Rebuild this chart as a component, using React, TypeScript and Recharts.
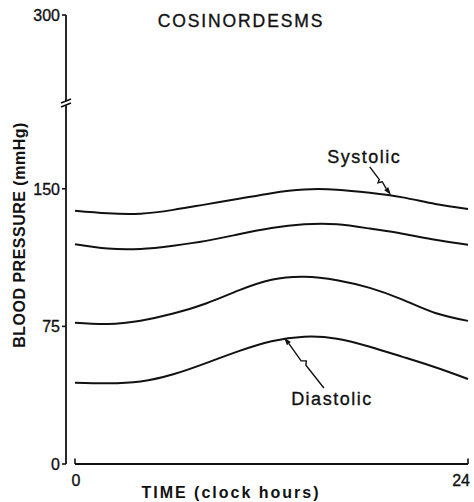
import React from "react";
import { LineChart, Line, XAxis, YAxis, ReferenceLine } from "recharts";

// clock hours sampled along the curves
const hours = [0, 2, 4, 6, 8, 10, 12, 14, 16, 18, 20, 22, 24];

// cosinor desms: upper / lower bounds for systolic and diastolic pressure (mmHg)
const systolicUpper = [138.0, 136.6, 136.4, 138.5, 141.5, 144.5, 147.6, 149.6, 149.5, 147.8, 145.3, 141.7, 139.0];
const systolicLower = [119.8, 117.4, 117.2, 119.0, 121.6, 125.2, 128.6, 130.6, 130.6, 128.3, 125.5, 122.2, 119.5];
const diastolicUpper = [77.0, 76.3, 78.1, 82.0, 87.5, 94.6, 100.4, 102.1, 100.2, 96.0, 89.6, 82.3, 78.0];
const diastolicLower = [44.3, 44.0, 45.0, 48.9, 55.0, 61.5, 66.9, 69.4, 68.3, 63.9, 58.4, 52.7, 46.3];

// y axis is broken: the top tick stands for 300 mmHg
const yTicks = [0, 75, 150];
const yBreak = 196.7;
const yTop = 244.7;
const yTopLabel = "300";
const xTicks = [0, 24];

const FONT = '"Liberation Sans", Arial, Helvetica, sans-serif';
const INK = "#111";
// photocopied type looks heavier than plain regular weight
const heavy = { stroke: INK, strokeWidth: 0.35 };

const data = hours.map((h, i) => ({
  hour: h,
  systolicUpper: systolicUpper[i],
  systolicLower: systolicLower[i],
  diastolicUpper: diastolicUpper[i],
  diastolicLower: diastolicLower[i],
}));

const TICK_SIZE = 4;
const TICK_MARGIN = 2;

function YTick(props: any) {
  const { x, y, payload } = props;
  const axisX = x + TICK_SIZE + TICK_MARGIN;
  const v = payload.value;
  if (v === yBreak) {
    return (
      <g>
        <rect x={axisX - 4} y={y - 2} width={8} height={4} fill="#fff" />
        <line x1={axisX - 5} y1={y + 0} x2={axisX + 5} y2={y - 4} stroke={INK} strokeWidth={1.6} />
        <line x1={axisX - 5} y1={y + 4} x2={axisX + 5} y2={y + 0} stroke={INK} strokeWidth={1.6} />
      </g>
    );
  }
  return (
    <g>
      <line x1={axisX - TICK_SIZE} y1={y} x2={axisX} y2={y} stroke={INK} strokeWidth={1.6} />
      <text x={x} y={y} dy="0.36em" textAnchor="end" fontSize={16} fill={INK} fontFamily={FONT} {...heavy}>
        {v === yTop ? yTopLabel : String(v)}
      </text>
    </g>
  );
}

function XTick(props: any) {
  const { x, y, payload } = props;
  const last = payload.value === 24;
  return (
    <text
      x={last ? x + 4 : x + 1}
      y={y}
      dy="0.71em"
      textAnchor={last ? "end" : "middle"}
      fontSize={16}
      fill={INK}
      fontFamily={FONT}
      {...heavy}
    >
      {payload.value}
    </text>
  );
}

function makeArrow(label: string, dx: number, dy: number) {
  return (p: any) => {
    const { x1, y1, x2, y2 } = p;
    const len = Math.hypot(x2 - x1, y2 - y1);
    const ux = (x2 - x1) / len;
    const uy = (y2 - y1) / len;
    const nx = -uy;
    const ny = ux;
    // small zig-zag halfway along the shaft
    const ax = x1 + ux * len * 0.45;
    const ay = y1 + uy * len * 0.45;
    const bx = x1 + ux * len * 0.5 + nx * 3;
    const by = y1 + uy * len * 0.5 + ny * 3;
    const cx = x1 + ux * len * 0.55 - nx * 1;
    const cy = y1 + uy * len * 0.55 - ny * 1;
    const hx = x2 - ux * 8;
    const hy = y2 - uy * 8;
    return (
      <g>
        <polyline
          points={`${x1},${y1} ${ax},${ay} ${bx},${by} ${cx},${cy} ${hx},${hy}`}
          fill="none"
          stroke={INK}
          strokeWidth={1.4}
        />
        <polygon
          points={`${x2},${y2} ${hx + nx * 2.5},${hy + ny * 2.5} ${hx - nx * 2.5},${hy - ny * 2.5}`}
          fill={INK}
        />
        <text
          x={x1 + dx}
          y={y1 + dy}
          textAnchor="middle"
          fontSize={18}
          letterSpacing={1.5}
          fill={INK}
          fontFamily={FONT}
          {...heavy}
        >
          {label}
        </text>
      </g>
    );
  };
}

const lineProps = {
  type: "natural" as const,
  stroke: INK,
  strokeWidth: 2,
  dot: false,
  activeDot: false,
  isAnimationActive: false,
};

export default function App() {
  return (
    <div style={{ position: "absolute", left: 0, top: 0, width: 474, height: 502, background: "#fff" }}>
      <LineChart width={474} height={502} data={data} margin={{ top: 15, right: 6, bottom: 0, left: 0 }}>
        <XAxis
          dataKey="hour"
          type="number"
          domain={[0, 24]}
          ticks={xTicks}
          padding={{ left: 9, right: 0 }}
          axisLine={false}
          tickLine={false}
          tickSize={8}
          tickMargin={3}
          height={38}
          tick={<XTick />}
        />
        <YAxis
          type="number"
          domain={[0, yTop]}
          ticks={[...yTicks, yBreak, yTop]}
          width={66}
          axisLine={{ stroke: INK, strokeWidth: 1.8 }}
          tickLine={false}
          tickSize={TICK_SIZE}
          tickMargin={TICK_MARGIN}
          tick={<YTick />}
          interval={0}
          label={{
            content: () => (
              <text
                x={25}
                y={235}
                transform="rotate(-90 25 235)"
                textAnchor="middle"
                fontSize={16}
                fontWeight="bold"
                letterSpacing={0.5}
                fill={INK}
                fontFamily={FONT}
              >
                BLOOD PRESSURE (mmHg)
              </text>
            ),
          }}
        />
        {/* x axis drawn as a segment so it starts at hour 0, clear of the y axis */}
        <ReferenceLine segment={[{ x: 0, y: 0 }, { x: 24, y: 0 }]} stroke={INK} strokeWidth={1.8} ifOverflow="visible" />
        <ReferenceLine segment={[{ x: 0, y: 0 }, { x: 0, y: 3 }]} stroke={INK} strokeWidth={1.6} ifOverflow="visible" />
        <ReferenceLine segment={[{ x: 24, y: 0 }, { x: 24, y: 3 }]} stroke={INK} strokeWidth={1.6} ifOverflow="visible" />

        <Line dataKey="systolicUpper" {...lineProps} />
        <Line dataKey="systolicLower" {...lineProps} />
        <Line dataKey="diastolicUpper" {...lineProps} />
        <Line dataKey="diastolicLower" {...lineProps} />

        <ReferenceLine
          segment={[{ x: 18.0, y: 161.9 }, { x: 19.3, y: 146.6 }]}
          ifOverflow="visible"
          shape={makeArrow("Systolic", -5.5, -4)}
        />
        <ReferenceLine
          segment={[{ x: 15.2, y: 41.4 }, { x: 12.76, y: 69.0 }]}
          ifOverflow="visible"
          shape={makeArrow("Diastolic", 8, 17)}
        />

        <text x={241} y={27} textAnchor="middle" fontSize={17.5} letterSpacing={1.9} fill={INK} fontFamily={FONT} {...heavy}>
          COSINORDESMS
        </text>
        <text x={231} y={498} textAnchor="middle" fontSize={16} fontWeight="bold" letterSpacing={2} fill={INK} fontFamily={FONT}>
          TIME (clock hours)
        </text>
      </LineChart>
    </div>
  );
}
